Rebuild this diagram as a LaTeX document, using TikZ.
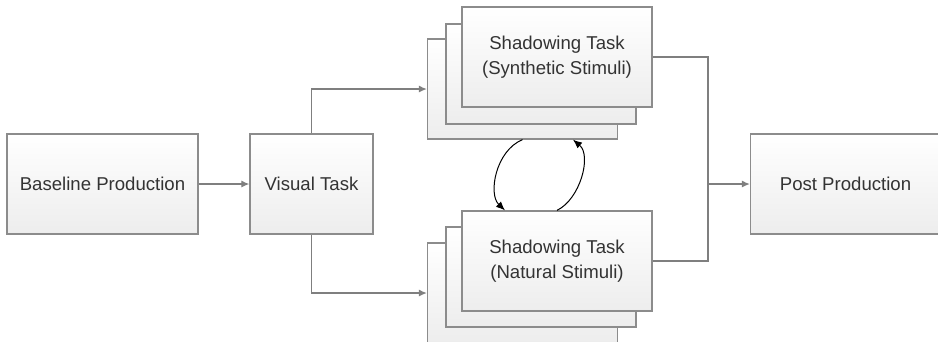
\documentclass[tikz,border=0pt]{standalone}
\usepackage{fontspec}
\setmainfont{Liberation Sans}
\usetikzlibrary{arrows.meta}
\definecolor{boxline}{HTML}{8C8C8C}
\definecolor{boxbot}{HTML}{EDEDED}
\definecolor{conn}{HTML}{7F7F7F}
\definecolor{txt}{HTML}{333333}
\begin{document}
\begin{tikzpicture}[x=1pt,y=-1pt,
  box/.style={draw=boxline, line width=1.3pt, top color=white, bottom color=boxbot,
    inner sep=0pt, minimum height=100pt, align=center, text=txt,
    font=\fontsize{18.6}{24.5}\selectfont},
  conn/.style={draw=conn, line width=1.2pt},
  garrow/.style={conn, -{Latex[length=8pt,width=7pt]}},
  barrow/.style={draw=black, line width=1pt, -{Latex[length=9pt,width=7.5pt]}}]
\useasboundingbox (0,0) rectangle (938,341);

\node[box, minimum width=191pt] (base) at (102.5,184) {Baseline Production};
\node[box, minimum width=123pt] (vis) at (311.5,184) {Visual Task};
\node[box, minimum width=190pt] (post) at (845.5,184) {Post Production};

% synthetic stack
\node[box, minimum width=190pt] (sb) at (522.5,89) {};
\node[box, minimum width=190pt] (sm) at (541,74) {};
\node[box, minimum width=190pt] (sf) at (557,57) {Shadowing Task\\(Synthetic Stimuli)};

% natural stack
\node[box, minimum width=190pt] (nb) at (522.5,293) {};
\node[box, minimum width=190pt] (nm) at (541,277) {};
\node[box, minimum width=190pt] (nf) at (557,261) {Shadowing Task\\(Natural Stimuli)};

\coordinate (j) at (708,184);

\draw[garrow] (base) -- (vis);
\draw[garrow] (vis.north) |- (sb.west);
\draw[garrow] (vis.south) |- (nb.west);
\draw[conn] (sf.east) -| (j) |- (nf.east);
\draw[garrow] (j) -- (post.west);

\draw[barrow] (sb.south) .. controls +(-27,11) and +(-17,-16) .. ([xshift=-52pt]nf.north);
\draw[barrow] (nf.north) .. controls +(23,-11) and +(19,16) .. ([xshift=50.5pt]sb.south);
\end{tikzpicture}
\end{document}
